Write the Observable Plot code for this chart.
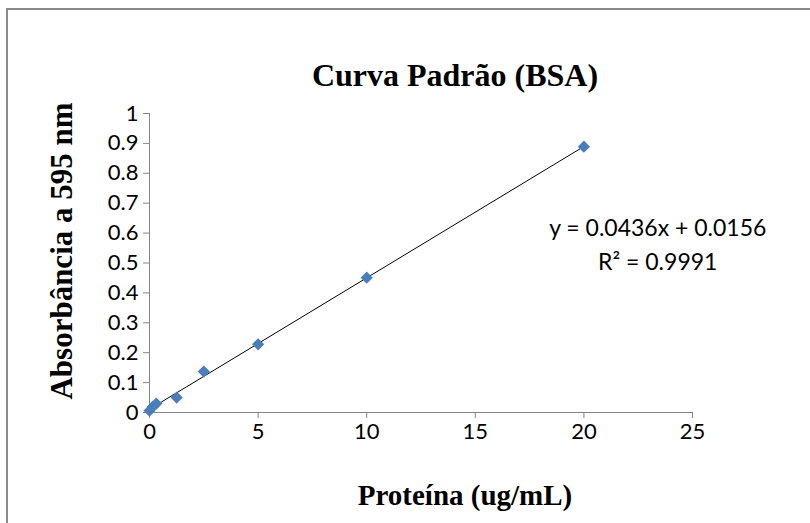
<!DOCTYPE html>
<html><head><meta charset="utf-8">
<script src="https://cdn.jsdelivr.net/npm/d3@7"></script>
<script src="https://cdn.jsdelivr.net/npm/@observablehq/plot@0.6"></script>
<style>
html,body{margin:0;padding:0;background:#fff;}
#wrap{position:relative;width:810px;height:523px;overflow:hidden;background:#fff;}
#frame{position:absolute;left:6px;top:8px;width:900px;height:600px;border-top:2px solid #8a8a8a;border-left:2px solid #8a8a8a;box-sizing:border-box;}
#chart{position:absolute;left:0;top:0;}
</style></head><body>
<div id="wrap"><div id="frame"></div><div id="chart"></div></div>
<script>
const protein = [0, 0.156, 0.3125, 1.25, 2.5, 5, 10, 20];
const absorbance = [0.006, 0.02, 0.03, 0.05, 0.137, 0.228, 0.451, 0.889];
const yTicks = [0, 0.1, 0.2, 0.3, 0.4, 0.5, 0.6, 0.7, 0.8, 0.9, 1];
const xTicks = [0, 5, 10, 15, 20, 25];
const titleText = "Curva Padrão (BSA)";
const xLabelText = "Proteína (ug/mL)";
const yLabelText = "Absorbância a 595 nm";
const equationLines = ["y = 0.0436x + 0.0156", "R² = 0.9991"];
const equationPos = [{x: 23.4, y: 0.615}, {x: 23.4, y: 0.5}];

const data = protein.map((p, i) => ({protein: p, absorbance: absorbance[i]}));
const eq = equationLines.map((t, i) => ({text: t, ...equationPos[i]}));

const axisColor = "#868686";
const serif = "'Liberation Serif', 'Times New Roman', serif";
const sans = "Lato, 'Open Sans', sans-serif";

const chart = Plot.plot({
  width: 810,
  height: 523,
  marginLeft: 149,
  marginRight: 118,
  marginTop: 113,
  marginBottom: 111,
  style: {background: "transparent", overflow: "visible"},
  x: {domain: [0, 25]},
  y: {domain: [0, 1]},
  marks: [
    Plot.ruleX([0], {stroke: axisColor}),
    Plot.ruleY([0], {stroke: axisColor}),
    Plot.axisY({ticks: yTicks, tickSize: 6, tickPadding: 5, stroke: axisColor, fill: "#000", fontSize: 22, fontFamily: sans, tickFormat: d => String(+d.toFixed(1)), label: null}),
    Plot.axisX({ticks: xTicks, tickSize: 6, tickPadding: 5, stroke: axisColor, fill: "#000", fontSize: 22, fontFamily: sans, label: null}),
    Plot.linearRegressionY(data, {x: "protein", y: "absorbance", ci: 0, stroke: "#000", strokeWidth: 1}),
    Plot.dot(data, {x: "protein", y: "absorbance", symbol: "diamond2", r: 5.5, fill: "#4a7ebb", stroke: "none"}),
    Plot.text(eq, {x: "x", y: "y", text: "text", fontSize: 23, fontFamily: sans, fill: "#000", textAnchor: "middle"}),
    Plot.text([titleText], {frameAnchor: "top", dx: 34, dy: -38, fontSize: 32, fontWeight: "bold", fontFamily: serif, fill: "#000", textAnchor: "middle", lineAnchor: "middle"}),
    Plot.text([xLabelText], {frameAnchor: "bottom", dx: 44, dy: 83, fontSize: 29, fontWeight: "bold", fontFamily: serif, fill: "#000", textAnchor: "middle", lineAnchor: "middle"}),
    Plot.text([yLabelText], {frameAnchor: "left", dx: -87, dy: -12, rotate: -90, fontSize: 31, fontWeight: "bold", fontFamily: serif, fill: "#000", textAnchor: "middle", lineAnchor: "middle"})
  ]
});
document.getElementById("chart").appendChild(chart);
</script>
</body></html>
